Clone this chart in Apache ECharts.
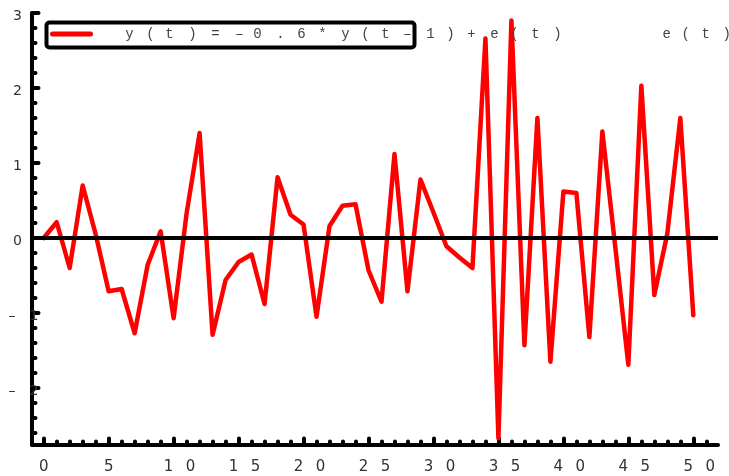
<!DOCTYPE html>
<html><head><meta charset="utf-8">
<script src="https://cdn.jsdelivr.net/npm/echarts@6/dist/echarts.min.js"></script>
<style>html,body{margin:0;padding:0;background:#fff}#c{width:729px;height:476px}</style>
</head><body><div id="c"></div>
<script>
// ---- data ----
const tValues = [0,1,2,3,4,5,6,7,8,9,10,11,12,13,14,15,16,17,18,19,20,21,22,23,24,25,26,27,28,29,30,31,32,33,34,35,36,37,38,39,40,41,42,43,44,45,46,47,48,49,50];
const yValues = [0,0.21,-0.40,0.70,0.05,-0.71,-0.68,-1.27,-0.36,0.09,-1.07,0.33,1.40,-1.29,-0.56,-0.32,-0.22,-0.88,0.81,0.31,0.18,-1.05,0.16,0.43,0.45,-0.43,-0.85,1.12,-0.71,0.78,0.34,-0.11,-0.26,-0.40,2.66,-2.67,2.90,-1.43,1.60,-1.65,0.62,0.60,-1.32,1.42,-0.13,-1.69,2.03,-0.76,0.06,1.60,-1.03];
const seriesName = 'y(t) = –0.6*y(t–1) + e(t)';
const seriesName2 = 'e(t)';
const xMajor = [0,5,10,15,20,25,30,35,40,45,50];
const xMinor = [0,1,2,3,4,5,6,7,8,9,10,11,12,13,14,15,16,17,18,19,20,21,22,23,24,25,26,27,28,29,30,31,32,33,34,35,36,37,38,39,40,41,42,43,44,45,46,47,48,49,50,51];
const yMajor = [-2,-1,0,1,2,3];
const yMinor = [-2.6,-2.4,-2.2,-2,-1.8,-1.6,-1.4,-1.2,-1,-0.8,-0.6,-0.4,-0.2,0,0.2,0.4,0.6,0.8,1,1.2,1.4,1.6,1.8,2,2.2,2.4,2.6,2.8,3];

// ---- styling helpers ----
const mono = {fontFamily:'Liberation Mono', fontSize:14, color:'#444'};
const sans = {fontFamily:'DejaVu Sans', color:'#333'};
const leg1Centers = [127,148,167,190,213,237,255,278,299,320,343,363,383,405,428,448,469,492,512,533,555];
const leg2Centers = [662,681,701,722];
function legendRich(centers, textStart, prefix){
  const rich = {};
  rich[prefix+'sp'] = Object.assign({width: centers[0]-4.2-textStart}, mono);
  for (let i=0;i<centers.length;i++){
    const w = i<centers.length-1 ? centers[i+1]-centers[i] : 10;
    rich[prefix+i] = Object.assign({width:w}, mono);
  }
  return rich;
}
function legendFmt(prefix){
  return function(name){
    const chars = name.replace(/ /g,'').split('');
    return '{'+prefix+'sp| }' + chars.map((c,i)=>'{'+prefix+i+'|'+c+'}').join('');
  };
}
const L1 = 50, L2 = 650;

const chart = echarts.init(document.getElementById('c'), null, {renderer:'canvas'});
const xRange = {min:-0.9, max:51.9};
const yRange = {min:-2.76, max:3};
const tickStyle = {color:'#000', width:4, cap:'round'};
const xs = Object.assign({fontSize:15}, sans);
const ys = Object.assign({fontSize:14}, sans);

chart.setOption({
  animation:false,
  backgroundColor:'#fff',
  grid:{left:32, right:11, top:13, bottom:31, containLabel:false, outerBoundsMode:'none'},
  legend:[
    {data:[seriesName], left:L1, top:27, padding:0, itemWidth:38, itemHeight:14, selectedMode:false,
     itemStyle:{opacity:0},
     lineStyle:{width:5, color:'#ff0000', cap:'round'},
     formatter: legendFmt('a'), textStyle: Object.assign({rich: legendRich(leg1Centers, L1+38+5, 'a')}, mono)},
    {data:[seriesName2], left:L2, top:27, padding:0, itemWidth:2, itemHeight:14, selectedMode:false,
     itemStyle:{opacity:0}, lineStyle:{opacity:0},
     formatter: legendFmt('b'), textStyle: Object.assign({rich: legendRich(leg2Centers, L2+2+5, 'b')}, mono)}
  ],
  graphic:[{type:'rect', left:44, top:20, shape:{x:0,y:0,width:368,height:25,r:3}, style:{fill:'none', stroke:'#000', lineWidth:4}, z:1}],
  xAxis:[
    Object.assign({type:'value', position:'bottom',
      axisLine:{show:true, onZero:false, lineStyle:{color:'#000', width:4, cap:'round'}},
      axisTick:{show:true, inside:true, length:3.5, customValues:xMinor, lineStyle:tickStyle},
      axisLabel:{show:true, customValues:xMajor, margin:15,
        formatter: v => { const s=String(v); return s.length===1 ? '{s|'+s+'}' : '{a|'+s[0]+'}{b|'+s[1]+'}'; },
        rich:{ s:Object.assign({width:10, align:'center'}, xs), a:Object.assign({width:34, align:'center'}, xs), b:Object.assign({width:10, align:'center'}, xs)}},
      splitLine:{show:false}}, xRange),
    Object.assign({type:'value', position:'bottom',
      axisLine:{show:false, onZero:false},
      axisTick:{show:true, inside:true, length:6.5, customValues:xMajor, lineStyle:tickStyle},
      axisLabel:{show:false}, splitLine:{show:false}}, xRange)
  ],
  yAxis:[
    Object.assign({type:'value', position:'left',
      axisLine:{show:true, onZero:false, lineStyle:{color:'#000', width:4, cap:'round'}},
      axisTick:{show:true, inside:true, length:3.5, customValues:yMinor, lineStyle:tickStyle},
      axisLabel:{show:true, customValues:yMajor, margin:26, align:'left', padding:[7,0,0,0],
        formatter: v => v<0 ? '{m|–}{n|'+(-v)+'}' : '{p|'+v+'}',
        rich:{ p:Object.assign({width:23, align:'center'}, ys), m:Object.assign({width:12, align:'center'}, ys), n:Object.assign({width:32, align:'center'}, ys)}},
      splitLine:{show:false}}, yRange),
    Object.assign({type:'value', position:'left',
      axisLine:{show:false, onZero:false},
      axisTick:{show:true, inside:true, length:6.5, customValues:yMajor, lineStyle:tickStyle},
      axisLabel:{show:false}, splitLine:{show:false}}, yRange)
  ],
  series:[
    {name:seriesName, type:'line', xAxisIndex:0, yAxisIndex:0, symbol:'none', showSymbol:false,
     data: tValues.map((t,i)=>[t, yValues[i]]),
     lineStyle:{color:'#ff0000', width:4.5, join:'round', cap:'round'}, itemStyle:{color:'#ff0000'},
     markLine:{silent:true, symbol:['none','none'], label:{show:false}, animation:false,
       lineStyle:{color:'#000', width:4, type:'solid'}, emphasis:{disabled:true}, data:[{yAxis:0}]}},
    {name:seriesName2, type:'line', xAxisIndex:0, yAxisIndex:0, symbol:'none', data:[], lineStyle:{opacity:0}}
  ]
});
</script></body></html>
